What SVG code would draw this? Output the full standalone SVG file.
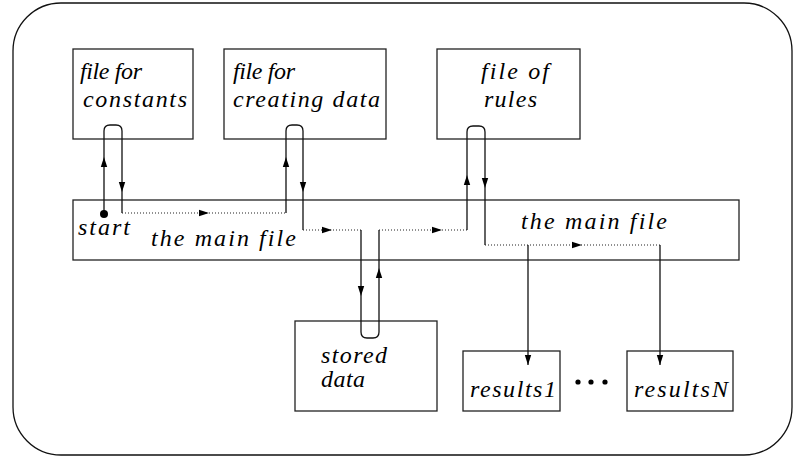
<svg xmlns="http://www.w3.org/2000/svg" xmlns:xlink="http://www.w3.org/1999/xlink" width="794" height="457" viewBox="0 0 794 457">
<style>
.box{fill:#fff;stroke:#222;stroke-width:1.3}
.ln{fill:none;stroke:#111;stroke-width:1.3}
.dot{fill:none;stroke:#222;stroke-width:1.2;stroke-dasharray:1 2}
.t{font-family:'Liberation Serif','DejaVu Serif',serif;font-style:italic;font-size:24px;fill:#000}
</style>
<defs>
<path id="ah" d="M0,0 L-10,-3.2 L-10,3.2 Z"/>
</defs>
<rect x="13" y="3" width="779" height="452" rx="48" ry="48" fill="#fff" stroke="#111" stroke-width="1.3"/>
<g id="n-constants">
<rect class="box" x="73" y="49" width="120" height="90"/>
<text class="t" x="80" y="79" textLength="62" lengthAdjust="spacing">file for</text>
<text class="t" x="83" y="107" textLength="104" lengthAdjust="spacing">constants</text>
</g>
<g id="n-creating">
<rect class="box" x="224" y="49" width="162" height="90"/>
<text class="t" x="233" y="79" textLength="62" lengthAdjust="spacing">file for</text>
<text class="t" x="233" y="107" textLength="147" lengthAdjust="spacing">creating data</text>
</g>
<g id="n-rules">
<rect class="box" x="437" y="49" width="143" height="90"/>
<text class="t" x="481" y="79" textLength="68" lengthAdjust="spacing">file of</text>
<text class="t" x="484" y="107" textLength="53" lengthAdjust="spacing">rules</text>
</g>
<g id="n-main">
<rect class="box" x="73" y="200" width="666" height="60"/>
<text class="t" x="78" y="235" textLength="52" lengthAdjust="spacing">start</text>
<text class="t" x="151" y="246" textLength="145" lengthAdjust="spacing">the main file</text>
<text class="t" x="521" y="229" textLength="146" lengthAdjust="spacing">the main file</text>
</g>
<g id="n-stored">
<rect class="box" x="295" y="321" width="142" height="90"/>
<text class="t" x="321" y="363" textLength="66" lengthAdjust="spacing">stored</text>
<text class="t" x="321" y="387" textLength="44" lengthAdjust="spacing">data</text>
</g>
<g id="n-results1">
<rect class="box" x="463" y="351" width="97" height="60"/>
<text class="t" x="470" y="397" textLength="86" lengthAdjust="spacing">results1</text>
</g>
<g id="n-resultsN">
<rect class="box" x="627" y="351" width="106" height="60"/>
<text class="t" x="634" y="397" textLength="94" lengthAdjust="spacing">resultsN</text>
</g>
<g id="n-ellipsis">
<circle cx="578" cy="382" r="2.6"/>
<circle cx="591" cy="382" r="2.6"/>
<circle cx="605" cy="382" r="2.6"/>
</g>
<g id="connectors">
<path class="ln" d="M104,214 V131 Q104,125 110,125 H116 Q122,125 122,131 V213"/>
<path class="dot" d="M122,213 H286"/>
<path class="ln" d="M286,213 V131 Q286,125 292,125 H297 Q303,125 303,131 V230"/>
<path class="dot" d="M303,230 H361"/>
<path class="ln" d="M361,230 V332 Q361,338 367,338 H373 Q379,338 379,332 V230"/>
<path class="dot" d="M379,230 H467"/>
<path class="ln" d="M467,230 V132 Q467,126 473,126 H479 Q485,126 485,132 V245"/>
<path class="dot" d="M485,245 H660"/>
<path class="ln" d="M528,245 V365"/>
<path class="ln" d="M660,245 V365"/>
<circle cx="104" cy="214" r="4"/>
<use xlink:href="#ah" transform="translate(104,157) rotate(-90)"/>
<use xlink:href="#ah" transform="translate(122,192) rotate(90)"/>
<use xlink:href="#ah" transform="translate(209,213)"/>
<use xlink:href="#ah" transform="translate(286,157) rotate(-90)"/>
<use xlink:href="#ah" transform="translate(303,192) rotate(90)"/>
<use xlink:href="#ah" transform="translate(332,230)"/>
<use xlink:href="#ah" transform="translate(361,296) rotate(90)"/>
<use xlink:href="#ah" transform="translate(379,268) rotate(-90)"/>
<use xlink:href="#ah" transform="translate(442,230)"/>
<use xlink:href="#ah" transform="translate(467,175) rotate(-90)"/>
<use xlink:href="#ah" transform="translate(485,188) rotate(90)"/>
<use xlink:href="#ah" transform="translate(582,245)"/>
<use xlink:href="#ah" transform="translate(528,365) rotate(90)"/>
<use xlink:href="#ah" transform="translate(660,365) rotate(90)"/>
</g>
</svg>
